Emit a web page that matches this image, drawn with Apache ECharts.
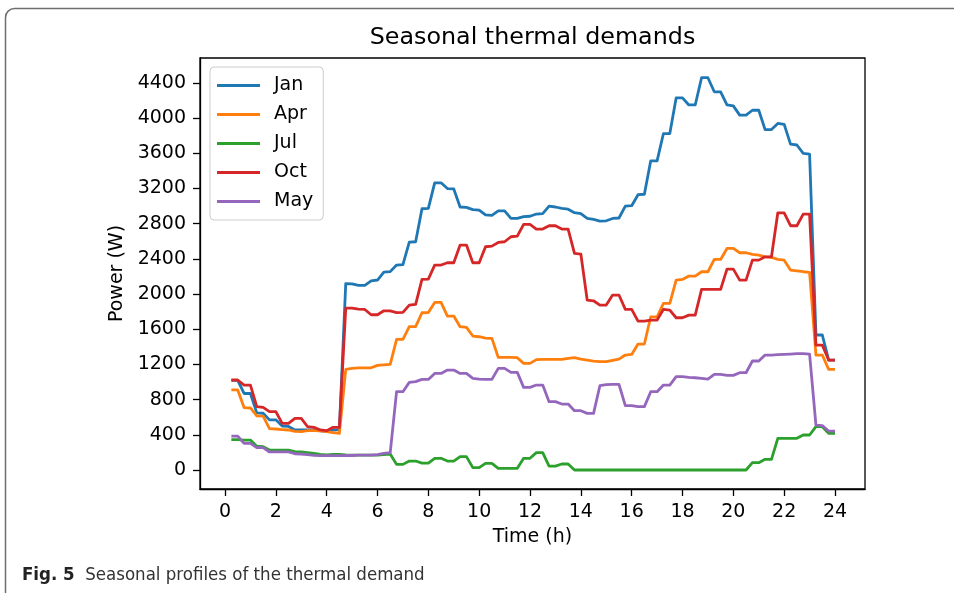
<!DOCTYPE html>
<html>
<head>
<meta charset="utf-8">
<script src="https://cdn.jsdelivr.net/npm/echarts@6/dist/echarts.min.js"></script>
<style>
html,body{margin:0;padding:0;background:#fff;}
#chart{width:954px;height:593px;}
</style>
</head>
<body>
<div id="chart"></div>
<script>
// Time (h), 15-minute steps
const times = [0.25,0.5,0.75,1,1.25,1.5,1.75,2,2.25,2.5,2.75,3,3.25,3.5,3.75,4,4.25,4.5,4.75,5,5.25,5.5,5.75,6,
  6.25,6.5,6.75,7,7.25,7.5,7.75,8,8.25,8.5,8.75,9,9.25,9.5,9.75,10,10.25,10.5,10.75,11,11.25,11.5,11.75,12,
  12.25,12.5,12.75,13,13.25,13.5,13.75,14,14.25,14.5,14.75,15,15.25,15.5,15.75,16,16.25,16.5,16.75,17,17.25,17.5,17.75,18,
  18.25,18.5,18.75,19,19.25,19.5,19.75,20,20.25,20.5,20.75,21,21.25,21.5,21.75,22,22.25,22.5,22.75,23,23.25,23.5,23.75,24];

const jan = [1020,1020,870,870,650,645,570,570,500,495,455,455,455,455,445,440,455,460,2120,2115,2100,2100,2150,2160,
  2250,2255,2330,2335,2590,2595,2970,2975,3265,3265,3200,3195,2990,2985,2960,2955,2900,2895,2945,2945,2860,2860,2880,2885,
  2910,2915,3000,2990,2975,2965,2925,2915,2860,2850,2830,2833,2860,2865,3000,3005,3130,3135,3515,3515,3825,3825,4230,4230,
  4150,4150,4460,4460,4300,4300,4150,4140,4035,4035,4090,4090,3870,3870,3940,3930,3705,3695,3600,3590,1535,1535,1250,1250];

const apr = [910,910,710,705,615,612,470,466,460,455,438,436,447,447,444,436,424,417,1145,1155,1160,1160,1162,1190,
  1195,1200,1485,1485,1630,1630,1788,1790,1905,1905,1750,1750,1629,1621,1523,1515,1500,1496,1280,1280,1280,1277,1212,1212,
  1255,1258,1258,1258,1258,1269,1277,1261,1250,1239,1231,1231,1245,1260,1307,1314,1432,1432,1742,1742,1894,1894,2159,2167,
  2205,2205,2254,2254,2394,2394,2519,2519,2470,2470,2451,2443,2424,2417,2394,2386,2273,2265,2254,2246,1307,1307,1144,1144];

const jul = [345,345,340,340,270,265,227,227,225,225,208,205,197,189,178,172,178,178,172,168,168,168,168,170,
  176,182,64,64,102,102,78,78,133,133,102,102,152,152,27,27,76,76,19,19,19,19,133,133,
  197,197,45,45,68,68,0,0,0,0,0,0,0,0,0,0,0,0,0,0,0,0,0,0,
  0,0,0,0,0,0,0,0,0,0,83,83,121,121,360,360,360,360,398,398,492,492,417,417];

const oct = [1023,1023,966,966,720,712,663,663,530,530,587,587,492,485,455,447,485,485,1840,1840,1830,1825,1765,1765,
  1810,1810,1790,1792,1875,1883,2167,2170,2330,2330,2356,2356,2557,2557,2356,2356,2538,2545,2587,2595,2652,2659,2792,2792,
  2739,2739,2777,2777,2739,2739,2462,2455,1932,1924,1875,1875,1989,1989,1826,1826,1693,1693,1705,1705,1826,1818,1731,1731,
  1761,1761,2053,2053,2053,2053,2284,2284,2159,2159,2386,2386,2424,2424,2924,2924,2777,2777,2909,2909,1420,1420,1250,1250];

const may = [386,386,303,303,254,254,205,205,205,205,185,182,174,167,163,163,163,163,165,165,170,170,170,174,
  189,197,890,890,996,1004,1030,1030,1098,1098,1136,1136,1098,1098,1042,1034,1030,1030,1155,1155,1110,1110,939,939,
  966,966,777,777,750,750,674,674,644,644,958,970,973,973,731,731,720,720,890,890,966,966,1061,1061,
  1053,1049,1042,1034,1087,1087,1076,1076,1106,1106,1239,1239,1307,1307,1311,1314,1318,1322,1322,1318,511,504,443,443];

const seriesNames = ['Jan','Apr','Jul','Oct','May'];
const seriesValues = [jan, apr, jul, oct, may];
const seriesColors = ['#1f77b4','#ff7f0e','#2ca02c','#d62728','#9467bd'];
const xTicks = [0,2,4,6,8,10,12,14,16,18,20,22,24];
const yTicks = [0,400,800,1200,1600,2000,2400,2800,3200,3600,4000,4400];

const FONT = 'DejaVu Sans';
const chart = echarts.init(document.getElementById('chart'), null, {renderer: 'canvas'});

const option = {
  animation: false,
  backgroundColor: '#fff',
  textStyle: {fontFamily: FONT},
  grid: {
    left: 200, top: 58, right: 89, bottom: 104,
    show: true, borderColor: '#000', borderWidth: 1.3,
    containLabel: false, outerBoundsMode: 'none'
  },
  legend: {
    orient: 'vertical',
    left: 210, top: 67,
    padding: [9, 10, 9, 7],
    itemWidth: 43, itemHeight: 3, itemGap: 10,
    icon: 'rect',
    backgroundColor: 'rgba(255,255,255,0.8)',
    borderColor: '#cccccc', borderWidth: 1, borderRadius: 4,
    textStyle: {fontFamily: FONT, fontSize: 19, color: '#000', lineHeight: 19, padding: [0,0,0,9]},
    data: seriesNames
  },
  xAxis: {
    type: 'value',
    min: -0.984, max: 25.18,
    name: 'Time (h)', nameLocation: 'middle', nameGap: 39,
    nameTextStyle: {fontFamily: FONT, fontSize: 19, color: '#000'},
    axisLine: {show: true, onZero: false, lineStyle: {color: '#000', width: 1.3}},
    axisTick: {show: true, length: 7, lineStyle: {color: '#000', width: 1.3}, customValues: xTicks},
    axisLabel: {fontFamily: FONT, fontSize: 19, color: '#000', margin: 14, customValues: xTicks,
      formatter: v => String(v)},
    splitLine: {show: false}
  },
  yAxis: {
    type: 'value',
    min: -216, max: 4684,
    name: 'Power (W)', nameLocation: 'middle', nameGap: 72, nameRotate: 90,
    nameTextStyle: {fontFamily: FONT, fontSize: 19, color: '#000'},
    axisLine: {show: true, onZero: false, lineStyle: {color: '#000', width: 1.3}},
    axisTick: {show: true, length: 7, lineStyle: {color: '#000', width: 1.3}, customValues: yTicks},
    axisLabel: {fontFamily: FONT, fontSize: 19, color: '#000', margin: 14, customValues: yTicks,
      formatter: v => String(v)},
    splitLine: {show: false}
  },
  series: seriesNames.map((name, k) => ({
    name: name,
    type: 'line',
    symbol: 'none',
    color: seriesColors[k],
    lineStyle: {width: 2.8, color: seriesColors[k], join: 'round'},
    data: times.map((t, i) => [t, seriesValues[k][i]])
  })),
  graphic: [
    {
      type: 'rect', silent: true, z: -10,
      shape: {x: 5.5, y: 8.5, width: 1200, height: 1200, r: 9},
      style: {fill: 'none', stroke: '#6e6e6e', lineWidth: 1.5}
    },
    {
      type: 'text', x: 532.5, y: 38,
      style: {text: 'Seasonal thermal demands', fontFamily: FONT, fontSize: 23.8, fill: '#000',
        textAlign: 'center', textVerticalAlign: 'middle'}
    },
    {
      type: 'text', x: 22, y: 575,
      style: {
        text: '{b|Fig. 5}{r|  Seasonal profiles of the thermal demand}',
        textVerticalAlign: 'middle', textAlign: 'left',
        rich: {
          b: {fontFamily: 'DejaVu Sans Condensed', fontWeight: 'bold', fontSize: 18.5, fill: '#222'},
          r: {fontFamily: 'DejaVu Sans Condensed', fontSize: 18.5, fill: '#333'}
        }
      }
    }
  ]
};
chart.setOption(option);
</script>
</body>
</html>
